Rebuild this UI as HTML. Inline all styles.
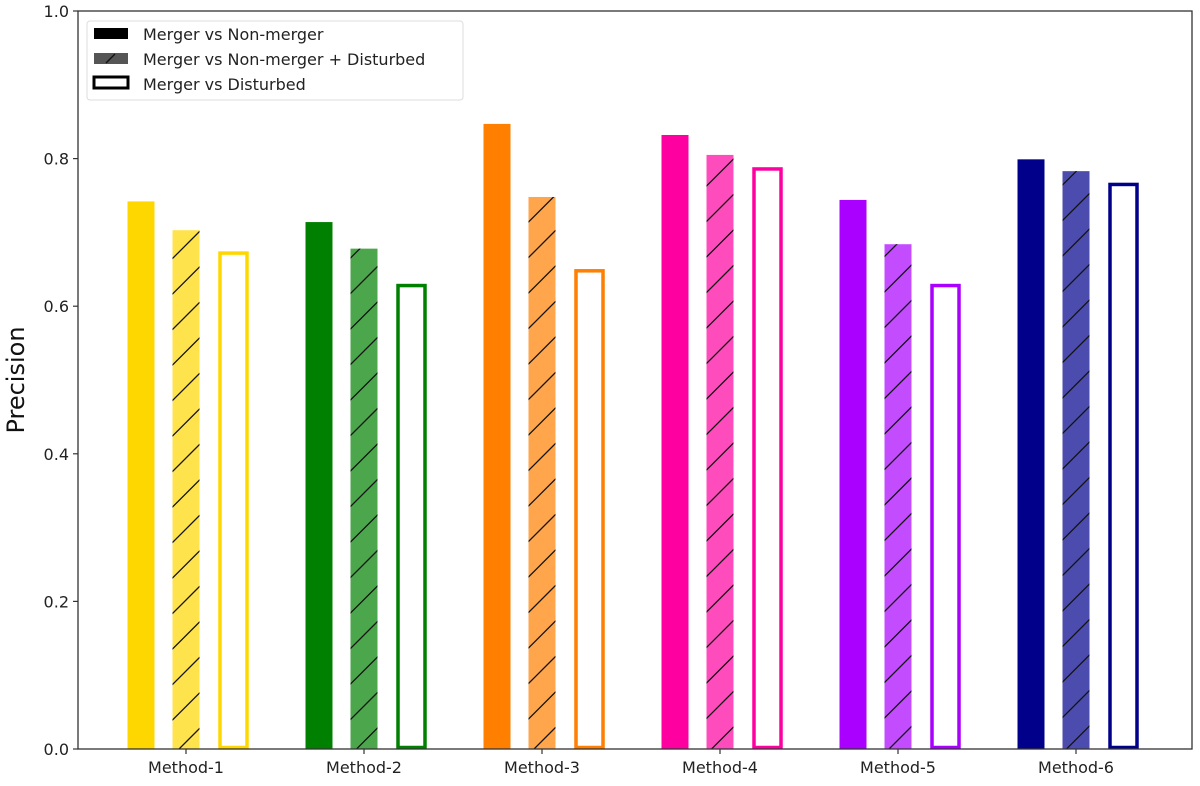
<!DOCTYPE html>
<html><head><meta charset="utf-8"><style>
body{margin:0;background:#fff;font-family:"DejaVu Sans","Liberation Sans",sans-serif}
</style></head><body>
<svg id="chart" width="1200" height="782" xmlns="http://www.w3.org/2000/svg">
<defs>
<pattern id="hatch" patternUnits="userSpaceOnUse" width="35.5" height="35.5" y="5">
<line x1="0" y1="35.5" x2="35.5" y2="0" stroke="#111" stroke-width="1.3"/>
<line x1="-3" y1="3" x2="3" y2="-3" stroke="#111" stroke-width="1.3"/>
<line x1="32.5" y1="38.5" x2="38.5" y2="32.5" stroke="#111" stroke-width="1.3"/>
</pattern>
</defs>
<g id="bars"></g>
<g id="axes"></g>
</svg>
<script>
const categories=["Method-1","Method-2","Method-3","Method-4","Method-5","Method-6"];
const nonMerger=[0.742,0.714,0.847,0.832,0.744,0.799];
const nonMergerDisturbed=[0.703,0.678,0.748,0.805,0.684,0.783];
const disturbed=[0.674,0.630,0.650,0.788,0.630,0.767];
const colors=["#FFD700","#008000","#FF7F00","#FF00A0","#AA00FF","#00008B"];
const yTicks=[0.0,0.2,0.4,0.6,0.8,1.0];

const NS="http://www.w3.org/2000/svg";
const L=78,R=1192,T=11,B=749;
const y=v=>B-(v/1.0)*(B-T);
const x=i=>186+i*178;
function mk(tag,attrs,parent,text){const e=document.createElementNS(NS,tag);for(const k in attrs)e.setAttribute(k,attrs[k]);if(text!==undefined)e.textContent=text;parent.appendChild(e);return e;}
const bars=document.getElementById('bars'),axes=document.getElementById('axes');
const W=27;
categories.forEach((c,i)=>{
 const cx=x(i);
 let r=mk('rect',{x:cx-45-W/2,y:y(nonMerger[i]),width:W,height:B-y(nonMerger[i]),fill:colors[i]},bars);
 
 
 let h=mk('rect',{x:cx-W/2,y:y(nonMergerDisturbed[i]),width:W,height:B-y(nonMergerDisturbed[i]),fill:colors[i],'fill-opacity':0.7},bars);
 
 
 mk('rect',{x:cx-W/2,y:y(nonMergerDisturbed[i]),width:W,height:B-y(nonMergerDisturbed[i]),fill:'url(#hatch)'},bars);
 let o=mk('rect',{x:cx+46-W/2+1.5,y:y(disturbed[i])+1.5,width:W,height:B-y(disturbed[i])-3,fill:'#fff',stroke:colors[i],'stroke-width':3.5},bars);
 
 
 mk('line',{x1:cx,y1:B,x2:cx,y2:B+5,stroke:'#333','stroke-width':1.2},axes);
 let t=mk('text',{x:cx,y:B+24,'text-anchor':'middle','font-size':16,fill:'#222'},axes,c);
 
 
});
yTicks.forEach(v=>{
 mk('line',{x1:L-5,y1:y(v),x2:L,y2:y(v),stroke:'#333','stroke-width':1.2},axes);
 let t=mk('text',{x:L-9,y:y(v)+6,'text-anchor':'end','font-size':16,fill:'#222'},axes,v.toFixed(1));
 
 
});
mk('rect',{x:L,y:T,width:R-L,height:B-T,fill:'none',stroke:'#333','stroke-width':1.3},axes);
let yt=mk('text',{x:0,y:0,transform:'translate(24,380) rotate(-90)','text-anchor':'middle','font-size':24,fill:'#111'},axes,'Precision');


const lg=mk('g',{},axes);


mk('rect',{x:87,y:21,width:376,height:79,rx:3,fill:'#fff',stroke:'#ddd','stroke-width':1},lg);
mk('rect',{x:94,y:28,width:34,height:11,fill:'#000'},lg);
mk('rect',{x:94,y:53,width:34,height:11,fill:'#555'},lg);
mk('line',{x1:106,y1:63,x2:115,y2:54,stroke:'#111','stroke-width':1.3},lg);
mk('rect',{x:94,y:77,width:34,height:11,fill:'#fff',stroke:'#000','stroke-width':3},lg);
const labels=["Merger vs Non-merger","Merger vs Non-merger + Disturbed","Merger vs Disturbed"];
labels.forEach((s,k)=>{
 let t=mk('text',{x:143,y:40+k*25,'font-size':16,fill:'#222'},lg,s);
 
 
});
</script>
</body></html>
